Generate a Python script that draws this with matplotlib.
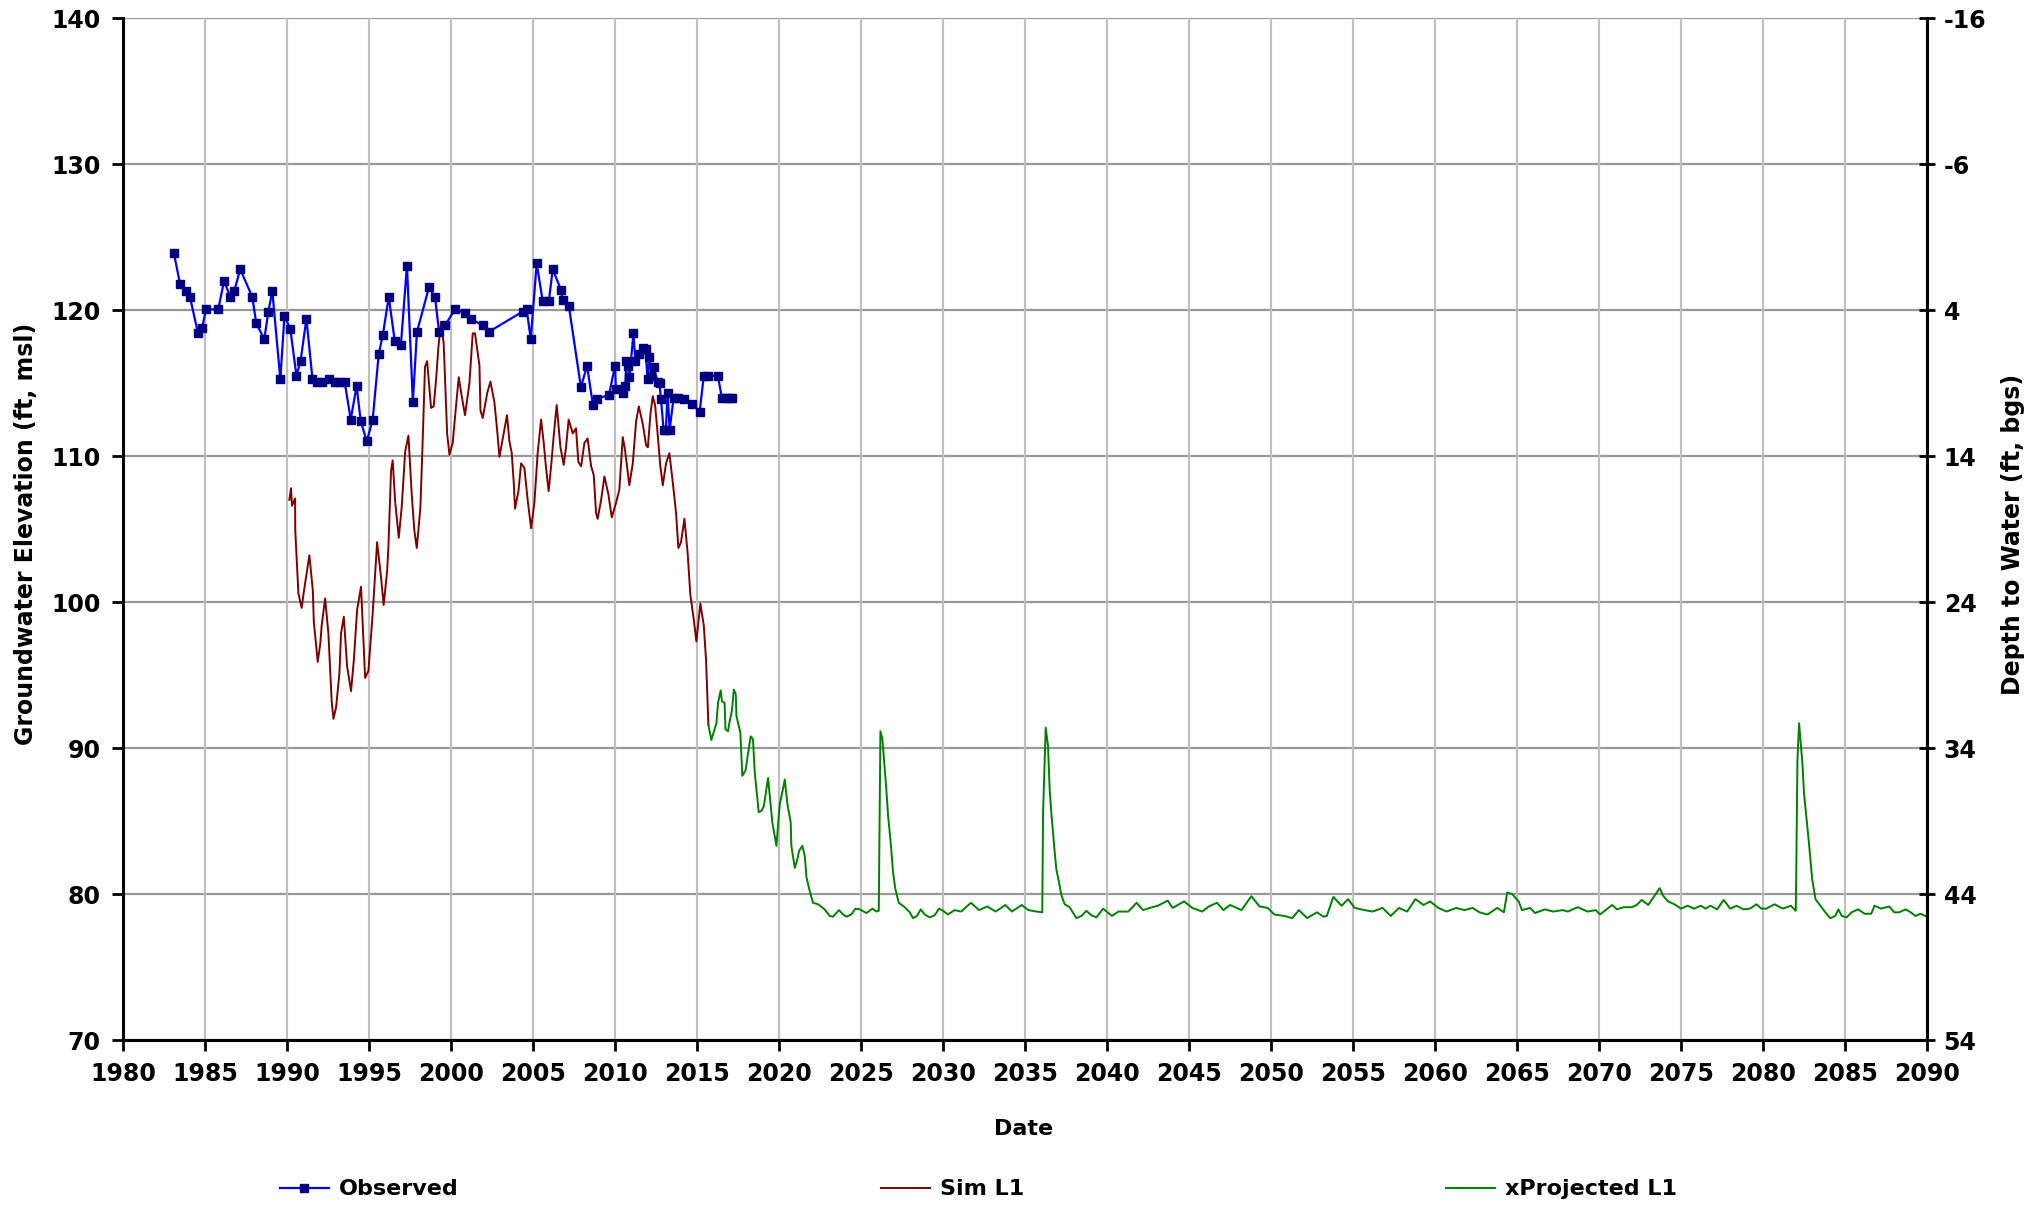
import matplotlib
matplotlib.use("Agg")
import matplotlib.pyplot as plt

plt.rcParams['axes.unicode_minus'] = False

# Observed groundwater elevation (ft, msl)
obs_year = [1983.10, 1983.47, 1983.84, 1984.08, 1984.57, 1984.82, 1985.06, 1985.80,
            1986.16, 1986.53, 1986.78, 1987.14, 1987.88, 1988.12, 1988.61, 1988.86,
            1989.10, 1989.59, 1989.84, 1990.20, 1990.57, 1990.82, 1991.18, 1991.55,
            1991.80, 1992.16, 1992.53, 1992.90, 1993.14, 1993.51, 1993.88, 1994.24,
            1994.49, 1994.86, 1995.22, 1995.59, 1995.84, 1996.20, 1996.57, 1996.94,
            1997.31, 1997.67, 1997.92, 1998.65, 1999.02, 1999.27, 1999.63, 2000.24,
            2000.82, 2001.22, 2001.92, 2002.29, 2004.37, 2004.61, 2004.86, 2005.22,
            2005.59, 2005.96, 2006.20, 2006.69, 2006.82, 2007.18, 2007.92, 2008.29,
            2008.65, 2008.90, 2009.63, 2010.00, 2010.05, 2010.49, 2010.63, 2010.68,
            2010.76, 2010.88, 2011.12, 2011.24, 2011.49, 2011.73, 2011.86, 2011.98,
            2012.10, 2012.22, 2012.35, 2012.59, 2012.71, 2012.80, 2012.96, 2013.10,
            2013.20, 2013.33, 2013.57, 2013.82, 2014.18, 2014.67, 2015.16, 2015.41,
            2015.65, 2016.27, 2016.51, 2016.76, 2017.00, 2017.12]
obs_elev = [123.9, 121.8, 121.3, 120.9, 118.4, 118.8, 120.05, 120.05,
            122.0, 120.9, 121.3, 122.8, 120.9, 119.1, 118.0, 119.9,
            121.3, 115.25, 119.6, 118.7, 115.5, 116.5, 119.4, 115.25,
            115.1, 115.1, 115.25, 115.1, 115.1, 115.1, 112.5, 114.8,
            112.4, 111.0, 112.5, 117.0, 118.3, 120.9, 117.85, 117.6,
            123.05, 113.7, 118.5, 121.55, 120.9, 118.5, 118.95, 120.05,
            119.8, 119.4, 118.95, 118.5, 119.9, 120.05, 118.0, 123.2,
            120.6, 120.6, 122.8, 121.4, 120.7, 120.3, 114.7, 116.2,
            113.5, 113.9, 114.2, 116.2, 114.6, 114.3, 114.8, 116.5,
            116.2, 115.4, 118.4, 116.5, 117.0, 117.4, 117.3, 115.25,
            116.8, 115.5, 116.1, 115.1, 115.0, 113.9, 111.8, 111.8,
            114.3, 111.8, 114.0, 114.0, 113.9, 113.6, 113.05, 115.5,
            115.5, 115.5, 114.0, 114.0, 114.0, 114.0]

# Simulated layer 1
sim_year = [1990.14, 1990.24, 1990.30, 1990.49, 1990.50, 1990.69, 1990.89, 1991.02, 1991.36,
            1991.57, 1991.63, 1991.87, 1992.03, 1992.11, 1992.32, 1992.52, 1992.72, 1992.83,
            1992.99, 1993.19, 1993.29, 1993.46, 1993.66, 1993.90, 1994.07, 1994.27, 1994.51,
            1994.76, 1994.96, 1995.22, 1995.49, 1995.73, 1995.89, 1996.10, 1996.18, 1996.34,
            1996.44, 1996.59, 1996.81, 1996.99, 1997.20, 1997.40, 1997.60, 1997.76, 1997.91,
            1998.13, 1998.27, 1998.41, 1998.54, 1998.78, 1998.94, 1999.09, 1999.23, 1999.39,
            1999.55, 1999.76, 1999.90, 2000.10, 2000.30, 2000.47, 2000.65, 2000.85, 2001.12,
            2001.32, 2001.46, 2001.73, 2001.79, 2001.93, 2002.20, 2002.40, 2002.64, 2002.80,
            2002.95, 2003.21, 2003.41, 2003.56, 2003.70, 2003.82, 2003.90, 2004.11, 2004.27,
            2004.47, 2004.67, 2004.88, 2005.08, 2005.28, 2005.49, 2005.65, 2005.79, 2005.95,
            2006.10, 2006.26, 2006.44, 2006.67, 2006.87, 2007.01, 2007.17, 2007.42, 2007.62,
            2007.76, 2007.93, 2008.13, 2008.33, 2008.54, 2008.70, 2008.84, 2008.94, 2009.15,
            2009.35, 2009.59, 2009.80, 2010.06, 2010.26, 2010.47, 2010.61, 2010.87, 2011.08,
            2011.28, 2011.45, 2011.69, 2011.89, 2012.00, 2012.16, 2012.30, 2012.44, 2012.56,
            2012.76, 2012.91, 2013.11, 2013.31, 2013.52, 2013.72, 2013.86, 2014.02, 2014.23,
            2014.43, 2014.59, 2014.80, 2014.96, 2015.20, 2015.41, 2015.55, 2015.69]
sim_elev = [107.0, 107.8, 106.6, 107.1, 104.9, 100.6, 99.6, 100.7, 103.2,
            100.8, 98.65, 95.9, 97.2, 98.4, 100.25, 97.85, 93.2, 92.0,
            92.8, 95.1, 97.85, 99.0, 95.6, 93.9, 96.0, 99.45, 101.05,
            94.8, 95.3, 99.2, 104.1, 101.7, 99.8, 102.1, 103.8, 109.0,
            109.7, 106.9, 104.4, 106.5, 110.3, 111.4, 107.4, 104.9, 103.7,
            106.5, 111.1, 116.1, 116.5, 113.3, 113.4, 115.3, 117.5, 119.2,
            117.7, 111.55, 110.1, 110.9, 113.4, 115.4, 114.1, 112.8, 115.0,
            118.4, 118.4, 116.2, 113.15, 112.6, 114.3, 115.1, 113.7, 111.9,
            109.95, 111.55, 112.8, 111.0, 110.2, 108.2, 106.4, 107.6, 109.5,
            109.2, 107.0, 105.05, 106.8, 110.2, 112.5, 110.9, 109.2, 107.6,
            109.3, 111.4, 113.5, 110.6, 109.4, 110.6, 112.5, 111.55, 111.9,
            109.6, 109.3, 110.9, 111.2, 109.3, 108.7, 106.1, 105.7, 107.0,
            108.6, 107.4, 105.8, 106.8, 107.7, 111.3, 110.4, 108.0, 109.5,
            112.35, 113.4, 112.2, 110.75, 110.6, 112.9, 114.1, 113.5, 112.0,
            109.3, 108.0, 109.5, 110.2, 108.2, 106.1, 103.7, 104.1, 105.7,
            103.3, 100.5, 98.8, 97.3, 99.9, 98.4, 96.0, 91.6]

# Projected layer 1
proj_year = [2015.69, 2015.87, 2016.18, 2016.28, 2016.44, 2016.52, 2016.68, 2016.73, 2016.89,
             2016.95, 2017.13, 2017.24, 2017.36, 2017.40, 2017.64, 2017.76, 2017.97, 2018.05,
             2018.27, 2018.41, 2018.52, 2018.76, 2018.92, 2019.07, 2019.33, 2019.43, 2019.59,
             2019.84, 2020.04, 2020.24, 2020.35, 2020.51, 2020.71, 2020.75, 2020.96, 2021.10,
             2021.22, 2021.42, 2021.57, 2021.67, 2021.87, 2022.07, 2022.38, 2022.78, 2023.09,
             2023.29, 2023.66, 2023.90, 2024.11, 2024.41, 2024.65, 2024.92, 2025.33, 2025.69,
             2025.93, 2026.08, 2026.18, 2026.30, 2026.54, 2026.65, 2026.81, 2026.95, 2027.09,
             2027.30, 2027.66, 2027.97, 2028.17, 2028.41, 2028.64, 2028.88, 2029.19, 2029.49,
             2029.76, 2030.00, 2030.30, 2030.70, 2031.10, 2031.70, 2032.20, 2032.70, 2033.20,
             2033.80, 2034.20, 2034.80, 2035.20, 2035.70, 2036.05, 2036.10, 2036.26, 2036.40,
             2036.50, 2036.60, 2036.81, 2036.91, 2037.07, 2037.22, 2037.42, 2037.72, 2038.13,
             2038.44, 2038.74, 2039.04, 2039.35, 2039.76, 2040.30, 2040.70, 2041.30, 2041.80,
             2042.20, 2042.60, 2043.10, 2043.70, 2044.00, 2044.70, 2045.20, 2045.80, 2046.20,
             2046.70, 2047.10, 2047.50, 2048.20, 2048.80, 2049.30, 2049.80, 2050.20, 2050.80,
             2051.30, 2051.70, 2052.20, 2052.80, 2053.20, 2053.40, 2053.80, 2054.30, 2054.70,
             2055.10, 2055.70, 2056.20, 2056.80, 2057.30, 2057.80, 2058.30, 2058.80, 2059.30,
             2059.70, 2060.20, 2060.70, 2061.30, 2061.80, 2062.30, 2062.70, 2063.20, 2063.80,
             2064.20, 2064.40, 2064.70, 2065.10, 2065.30, 2065.80, 2066.10, 2066.70, 2067.20,
             2067.80, 2068.10, 2068.70, 2069.30, 2069.80, 2070.06, 2070.80, 2071.10, 2071.50,
             2072.00, 2072.30, 2072.60, 2073.00, 2073.40, 2073.70, 2073.90, 2074.20, 2074.60,
             2075.00, 2075.40, 2075.80, 2076.20, 2076.50, 2076.80, 2077.20, 2077.60, 2078.00,
             2078.40, 2078.80, 2079.20, 2079.60, 2079.90, 2080.20, 2080.70, 2081.20, 2081.70,
             2082.00, 2082.10, 2082.20, 2082.40, 2082.50, 2082.70, 2082.80, 2083.00, 2083.20,
             2083.50, 2083.80, 2084.10, 2084.40, 2084.60, 2084.80, 2085.10, 2085.40, 2085.80,
             2086.20, 2086.60, 2086.80, 2087.20, 2087.70, 2088.00, 2088.30, 2088.70, 2089.00,
             2089.30, 2089.60, 2089.90]
proj_elev = [91.6, 90.55, 91.7, 93.1, 93.95, 93.2, 93.1, 91.3, 91.15,
             91.6, 92.6, 94.0, 93.7, 92.2, 91.05, 88.1, 88.5, 89.2,
             90.8, 90.6, 88.3, 85.6, 85.7, 86.0, 87.95, 86.8, 84.9,
             83.3, 86.15, 87.2, 87.85, 86.15, 84.9, 83.3, 81.8, 82.3,
             82.95, 83.3, 82.6, 81.15, 80.2, 79.4, 79.3, 78.95, 78.5,
             78.45, 78.9, 78.6, 78.45, 78.6, 79.0, 78.95, 78.7, 79.0,
             78.8, 78.85, 91.15, 90.6, 87.2, 85.35, 83.5, 81.5, 80.35,
             79.4, 79.1, 78.75, 78.35, 78.5, 78.95, 78.6, 78.4, 78.55,
             79.0, 78.85, 78.6, 78.9, 78.8, 79.4, 78.9, 79.15, 78.8,
             79.25, 78.8, 79.25, 78.9, 78.8, 78.75, 85.6, 91.4, 90.15,
             87.2, 85.6, 82.85, 81.7, 80.8, 79.9, 79.3, 79.1, 78.35,
             78.5, 78.85, 78.55, 78.4, 79.0, 78.5, 78.8, 78.8, 79.4,
             78.9, 79.05, 79.2, 79.55, 79.05, 79.5, 79.05, 78.8, 79.15,
             79.4, 78.9, 79.25, 78.9, 79.85, 79.15, 79.05, 78.6, 78.5,
             78.35, 78.9, 78.35, 78.75, 78.45, 78.5, 79.8, 79.2, 79.65,
             79.05, 78.9, 78.8, 79.05, 78.5, 79.05, 78.8, 79.65, 79.25,
             79.5, 79.05, 78.8, 79.05, 78.9, 79.05, 78.75, 78.6, 79.05,
             78.75, 80.1, 80.0, 79.5, 78.9, 79.05, 78.7, 78.95, 78.8,
             78.9, 78.8, 79.1, 78.8, 78.9, 78.6, 79.25, 78.95, 79.1,
             79.1, 79.25, 79.6, 79.25, 79.9, 80.4, 79.9, 79.5, 79.3,
             79.0, 79.2, 79.0, 79.2, 79.0, 79.2, 78.95, 79.6, 79.0,
             79.2, 78.95, 79.0, 79.3, 79.0, 79.0, 79.3, 79.0, 79.2,
             78.85, 89.2, 91.7, 89.0, 86.9, 84.65, 83.5, 81.0, 79.65,
             79.2, 78.75, 78.35, 78.5, 78.95, 78.5, 78.4, 78.75, 78.95,
             78.65, 78.65, 79.2, 79.0, 79.15, 78.75, 78.75, 78.95, 78.75,
             78.5, 78.65, 78.5]

x_ticks = list(range(1980, 2091, 5))
elev_ticks = list(range(70, 141, 10))
depth_ticks = list(range(-16, 55, 10))

fig = plt.figure(figsize=(20.31, 12.05), dpi=100)
ax = fig.add_axes([0.0606, 0.1369, 0.8882, 0.8481])

# grid: horizontal darker, vertical lighter
for y in elev_ticks:
    ax.axhline(y, color='#999999', lw=1.6, zorder=0)
for x in x_ticks:
    ax.axvline(x, color='#c0c0c0', lw=1.6, zorder=0)

ax.plot(obs_year, obs_elev, color='#0000ff', lw=1.6, marker='s', markersize=6,
        markerfacecolor='#000080', markeredgecolor='#000080', label='Observed', zorder=3)
ax.plot(sim_year, sim_elev, color='#800000', lw=1.4, label='Sim L1', zorder=2)
ax.plot(proj_year, proj_elev, color='#008000', lw=1.4, label='xProjected L1', zorder=2)

ax.set_xlim(1980, 2090)
ax.set_ylim(70, 140)
ax.set_xticks(x_ticks)
ax.set_yticks(elev_ticks)
ax.tick_params(axis='both', labelsize=17, width=2, length=8, pad=8, direction='out')
for lab in ax.get_xticklabels() + ax.get_yticklabels():
    lab.set_fontweight('bold')

ax.spines['top'].set_visible(False)
for s in ['left', 'bottom']:
    ax.spines[s].set_linewidth(2.2)

ax.set_xlabel('Date', fontsize=16, fontweight='bold')
ax.xaxis.set_label_coords(0.499, -0.077)
ax.set_ylabel('Groundwater Elevation (ft, msl)', fontsize=17, fontweight='bold')
ax.yaxis.set_label_coords(-0.047, 0.495)

# right axis: depth to water
ax2 = ax.twinx()
ax2.set_ylim(54, -16)
ax2.set_yticks(depth_ticks)
ax2.tick_params(axis='y', labelsize=17, width=2, length=12, pad=6, direction='inout')
for lab in ax2.get_yticklabels():
    lab.set_fontweight('bold')
ax2.spines['top'].set_visible(False)
ax2.spines['right'].set_linewidth(2.2)
ax2.set_ylabel('Depth to Water (ft, bgs)', fontsize=17, fontweight='bold')
ax2.yaxis.set_label_coords(1.041, 0.495)

leg = fig.legend(loc='center left', bbox_to_anchor=(0.128, 0.013), ncol=3, frameon=False,
                 handlelength=2.2, handletextpad=0.45, columnspacing=19.0,
                 prop={'weight': 'bold', 'size': 16})

fig.savefig('out.png', dpi=100)
